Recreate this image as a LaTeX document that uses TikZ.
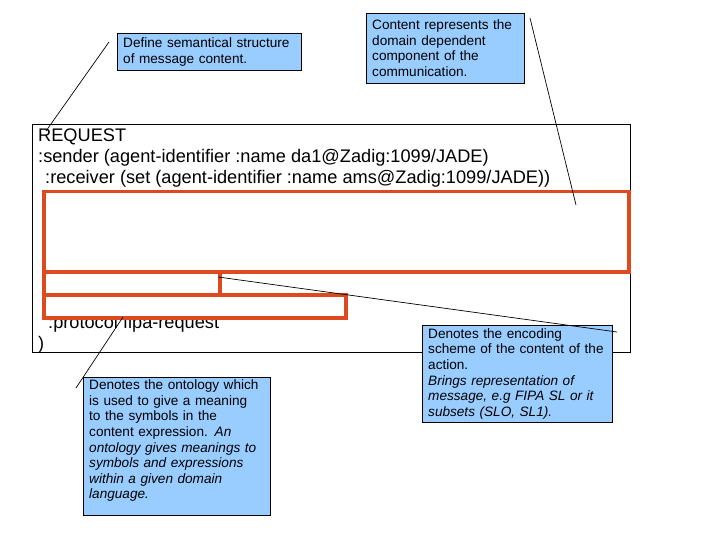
\documentclass[tikz,border=0pt]{standalone}
\usepackage{fontspec}
\setmainfont{Liberation Sans}
\usepackage{xcolor}
\usepackage{tikz}
\hyphenpenalty=10000
\definecolor{notaazul}{RGB}{153,204,255}
\definecolor{tapavermelho}{RGB}{222,74,32}
\tikzset{
  nota/.style={draw, fill=notaazul, align=left, anchor=north west, text width=#1,
    inner xsep=6pt, inner ysep=1pt, font=\fontsize{13.6}{15.6}\selectfont},
  nota/.default=160pt,
  linha/.style={anchor=base west, inner sep=0pt, font=\fontsize{18.2}{20.6}\selectfont},
  tapa/.style={draw=tapavermelho, line width=3.5pt, fill=white, anchor=north west, inner sep=0pt},
  fio/.style={line width=0.7pt},
}
\begin{document}
\begin{tikzpicture}[x=1pt, y=-1pt]
  \useasboundingbox (0,0) rectangle (720,540);
  % mensagem ACL
  \node[draw, line width=0.8pt, anchor=north west, inner sep=0pt, minimum width=598pt, minimum height=228pt] (msg) at (32,124) {};
  \node[linha] (req) at (38,142) {REQUEST};
  \node[linha] (snd) at (38,162.7) {:sender (agent-identifier :name da1@Zadig:1099/JADE)};
  \node[linha] (rcv) at (45,183.3) {:receiver (set (agent-identifier :name ams@Zadig:1099/JADE))};
  \node[linha] (prot) at (48,328) {:protocol fipa-request};
  \node[linha] (fecha) at (38,349) {)};
  % campos tapados
  \node[tapa, minimum width=585pt, minimum height=80pt] (cont) at (42,190) {};
  \node[tapa, minimum width=176pt, minimum height=23pt] (lang) at (42,270) {};
  \node[tapa, minimum width=302pt, minimum height=23pt] (onto) at (42,293) {};
  % notas
  \node[nota=172pt, minimum height=37pt] (nsem) at (117,33) {Define semantical structure\\of message content.};
  \node[nota=146pt, minimum height=70pt] (ncont) at (366,13) {Content represents the\\domain dependent\\component of the\\communication.};
  \node[nota=175pt, minimum height=138pt] (nonto) at (83,377) {Denotes the ontology which\\is used to give a meaning\\to the symbols in the\\content expression. \textit{An}\\\textit{ontology gives meanings to}\\\textit{symbols and expressions}\\\textit{within a given domain}\\\textit{language.}\\[-2pt]\mbox{}};
  \node[nota=178pt, minimum height=97pt] (nlang) at (422,325) {Denotes the encoding\\scheme of the content of the\\action.\\\textit{Brings representation of}\\\textit{message, e.g FIPA SL or it}\\\textit{subsets (SLO, SL1).}};
  % fios
  \coordinate (a1) at (109,42);  \coordinate (a2) at (46,131);
  \coordinate (b1) at (530,18);  \coordinate (b2) at (576,205);
  \coordinate (c1) at (123,317); \coordinate (c2) at (76,388);
  \coordinate (d1) at (218,277); \coordinate (d2) at (617,332);
  \draw[fio] (a1) -- (a2);
  \draw[fio] (b1) -- (b2);
  \draw[fio] (c1) -- (c2);
  \draw[fio] (d1) -- (d2);
\end{tikzpicture}
\end{document}
